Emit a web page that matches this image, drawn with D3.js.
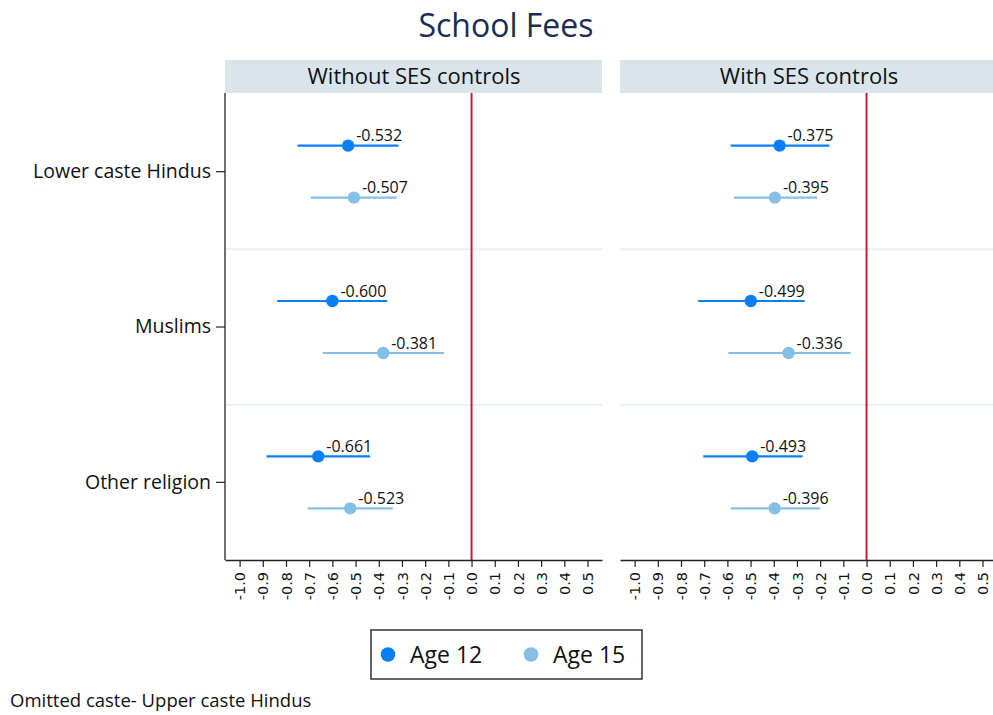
<!DOCTYPE html>
<html>
<head>
<meta charset="utf-8">
<script src="https://cdn.jsdelivr.net/npm/d3@7"></script>
<style>
  html, body { margin: 0; padding: 0; background: #fff; }
  svg { display: block; }
</style>
</head>
<body>
<svg id="chart" width="993" height="715"></svg>
<script>
// ---------- data ----------
const title = "School Fees";
const panels = ["Without SES controls", "With SES controls"];
const categories = ["Lower caste Hindus", "Muslims", "Other religion"];
const seriesNames = ["Age 12", "Age 15"];
const xTicks = [-1.0, -0.9, -0.8, -0.7, -0.6, -0.5, -0.4, -0.3, -0.2, -0.1, 0.0, 0.1, 0.2, 0.3, 0.4, 0.5];

// Without SES controls
const noSesAge12 = [-0.532, -0.600, -0.661];
const noSesAge12Lo = [-0.750, -0.838, -0.884];
const noSesAge12Hi = [-0.315, -0.364, -0.437];
const noSesAge15 = [-0.507, -0.381, -0.523];
const noSesAge15Lo = [-0.693, -0.641, -0.707];
const noSesAge15Hi = [-0.323, -0.119, -0.339];

// With SES controls
const sesAge12 = [-0.375, -0.499, -0.493];
const sesAge12Lo = [-0.586, -0.726, -0.704];
const sesAge12Hi = [-0.160, -0.267, -0.276];
const sesAge15 = [-0.395, -0.336, -0.396];
const sesAge15Lo = [-0.572, -0.596, -0.586];
const sesAge15Hi = [-0.213, -0.068, -0.201];

const footnote = "Omitted caste- Upper caste Hindus";

// ---------- build ----------
const panelData = [
  [
    { est: noSesAge12, lo: noSesAge12Lo, hi: noSesAge12Hi },
    { est: noSesAge15, lo: noSesAge15Lo, hi: noSesAge15Hi }
  ],
  [
    { est: sesAge12, lo: sesAge12Lo, hi: sesAge12Hi },
    { est: sesAge15, lo: sesAge15Lo, hi: sesAge15Hi }
  ]
];

const colors = ["#0a7ff5", "#85bfe6"];
const FONT = "'Open Sans', sans-serif";
const fmt1 = d => d.toFixed(1);
const fmt3 = d => d.toFixed(3);

const svg = d3.select("#chart");

const panelLeft = [225, 620];
const panelW = 377;
const plotTop = 94, plotBottom = 560;
const headerTop = 60, headerBottom = 93;

const x = d3.scaleLinear().domain([-1.063, 0.5625]).range([0, panelW]);
const y = d3.scaleBand().domain(categories).range([plotTop, plotBottom]).padding(0);
const off = d3.scalePoint().domain(seriesNames).range([-26, 26]);

// title
svg.append("text")
  .attr("x", 506).attr("y", 37)
  .attr("text-anchor", "middle")
  .attr("font-family", FONT).attr("font-size", 32)
  .attr("fill", "#1c2c55")
  .text(title);

panels.forEach((pName, pi) => {
  const g = svg.append("g").attr("transform", `translate(${panelLeft[pi]},0)`);

  // header
  g.append("rect")
    .attr("x", 0).attr("y", headerTop)
    .attr("width", panelW).attr("height", headerBottom - headerTop)
    .attr("fill", "#d9e5eb");
  g.append("text")
    .attr("x", panelW / 2 + 0.5).attr("y", 84)
    .attr("text-anchor", "middle")
    .attr("font-family", FONT).attr("font-size", 22)
    .attr("fill", "#111")
    .text(pName);

  // separators between categories
  categories.slice(1).forEach(c => {
    g.append("line")
      .attr("x1", 0).attr("x2", panelW)
      .attr("y1", y(c)).attr("y2", y(c))
      .attr("stroke", "#e9eff2").attr("stroke-width", 2);
  });

  // reference line at 0
  g.append("line")
    .attr("x1", x(0)).attr("x2", x(0))
    .attr("y1", headerBottom).attr("y2", plotBottom)
    .attr("stroke", "#cc1a3d").attr("stroke-width", 2);

  // x axis
  const xAxis = d3.axisBottom(x).tickValues(xTicks)
    .tickFormat(fmt1).tickSize(7).tickSizeOuter(0);
  const ax = g.append("g")
    .attr("transform", `translate(0,${plotBottom})`)
    .call(xAxis);
  ax.select(".domain").attr("stroke", "#222").attr("stroke-width", 1.3);
  ax.selectAll(".tick line").attr("stroke", "#222").attr("stroke-width", 1.2);
  ax.selectAll(".tick text")
    .attr("font-family", "'DejaVu Sans', sans-serif")
    .attr("font-size", 14.5)
    .attr("fill", "#111")
    .attr("text-anchor", "end")
    .attr("transform", "rotate(-90)")
    .attr("x", -12).attr("y", 0)
    .attr("dy", "0.35em");

  // y axis (left panel only)
  if (pi === 0) {
    const yAxis = d3.axisLeft(y).tickSize(9).tickSizeOuter(0).tickPadding(5);
    const ay = g.append("g").call(yAxis);
    ay.select(".domain").attr("stroke", "#222").attr("stroke-width", 1.3)
      .attr("d", `M0,${headerBottom}V${plotBottom}`);
    ay.selectAll(".tick line").attr("stroke", "#222").attr("stroke-width", 1.2);
    ay.selectAll(".tick text")
      .attr("font-family", FONT).attr("font-size", 19.5)
      .attr("fill", "#111");
  }

  // series
  panelData[pi].forEach((s, si) => {
    const sg = g.append("g");
    const rows = categories.map((c, ci) => ({
      c, est: s.est[ci], lo: s.lo[ci], hi: s.hi[ci]
    }));
    const cy = d => y(d.c) + y.bandwidth() / 2 + off(seriesNames[si]);
    sg.selectAll("line.ci").data(rows).join("line")
      .attr("class", "ci")
      .attr("x1", d => x(d.lo)).attr("x2", d => x(d.hi))
      .attr("y1", cy).attr("y2", cy)
      .attr("stroke", colors[si]).attr("stroke-width", 2.2);
    sg.selectAll("circle").data(rows).join("circle")
      .attr("cx", d => x(d.est)).attr("cy", cy)
      .attr("r", 6.2).attr("fill", colors[si]);
    sg.selectAll("text").data(rows).join("text")
      .attr("x", d => x(d.est) + 8).attr("y", d => cy(d) - 4.5)
      .attr("font-family", FONT).attr("font-size", 16)
      .attr("fill", "#111")
      .text(d => fmt3(d.est));
  });
});

// legend
const lg = svg.append("g");
lg.append("rect")
  .attr("x", 371).attr("y", 630).attr("width", 271).attr("height", 49)
  .attr("fill", "#fff").attr("stroke", "#333").attr("stroke-width", 1.5);
const legX = [388, 531];
seriesNames.forEach((n, i) => {
  lg.append("circle").attr("cx", legX[i]).attr("cy", 654.5).attr("r", 7.3).attr("fill", colors[i]);
  lg.append("text")
    .attr("x", legX[i] + 22).attr("y", 663)
    .attr("font-family", FONT).attr("font-size", 23)
    .attr("fill", "#111")
    .text(n);
});

// footnote
svg.append("text")
  .attr("x", 10).attr("y", 707)
  .attr("font-family", FONT).attr("font-size", 18.5)
  .attr("fill", "#111")
  .text(footnote);
</script>
</body>
</html>
